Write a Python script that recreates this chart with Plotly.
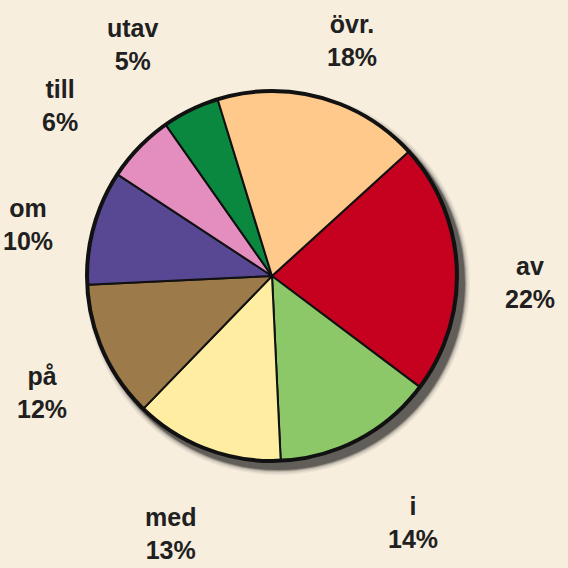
import plotly.graph_objects as go

# Data
labels = ["av", "i", "med", "på", "om", "till", "utav", "övr."]
values = [22, 14, 13, 12, 10, 6, 5, 18]
colors = ["#C6001F", "#8CC867", "#FFEEA2", "#9C7A4A", "#584894",
          "#E48DBF", "#0A8840", "#FFC98B"]

# Layout (pixel positions of the label blocks, top-left origin)
W = H = 568
cx, cy, R = 272, 276, 185
label_pos = [(530, 282), (413, 522), (170, 533), (42, 392),
             (28, 225), (60, 105), (133, 45), (352, 40)]

bg = "#F7EEDE"

def px(x):
    return x / W

def py(y):
    return 1 - y / H

fig = go.Figure()
fig.add_trace(go.Pie(
    labels=labels, values=values, sort=False, direction="clockwise",
    rotation=47.7, textinfo="none", hoverinfo="label+percent",
    marker=dict(colors=colors, line=dict(color="#111111", width=2)),
    domain=dict(x=[px(cx - R), px(cx + R)], y=[py(cy + R), py(cy - R)]),
    showlegend=False,
))

shapes = []
# soft shadow
for d, op in [(14, 0.05), (11, 0.08), (8, 0.12), (6, 0.2), (4, 0.35)]:
    ox, oy = 6, 7
    r = R + d * 0.5
    shapes.append(dict(type="circle", xref="paper", yref="paper", layer="below",
                       x0=px(cx + ox - r), x1=px(cx + ox + r),
                       y0=py(cy + oy + r), y1=py(cy + oy - r),
                       fillcolor="black", opacity=op, line=dict(width=0)))
# outline
shapes.append(dict(type="circle", xref="paper", yref="paper", layer="above",
                   x0=px(cx - R), x1=px(cx + R), y0=py(cy + R), y1=py(cy - R),
                   line=dict(color="#111111", width=4)))

annotations = []
for lab, v, (x, y) in zip(labels, values, label_pos):
    annotations.append(dict(
        x=px(x), y=py(y), xref="paper", yref="paper", showarrow=False,
        text=f"<b>{lab}</b><br><b>{v}%</b>", xanchor="center", yanchor="middle",
        font=dict(family="Liberation Sans, Arial, sans-serif", size=25, color="#202020"),
    ))

fig.update_layout(
    width=W, height=H, margin=dict(l=0, r=0, t=0, b=0),
    paper_bgcolor=bg, plot_bgcolor=bg,
    shapes=shapes, annotations=annotations,
    font=dict(family="Liberation Sans, Arial, sans-serif"),
)

fig.write_html(
    "out.html",
    config={"displayModeBar": False},
    post_script="document.body.style.margin='0';document.body.style.background='%s';" % bg,
)
